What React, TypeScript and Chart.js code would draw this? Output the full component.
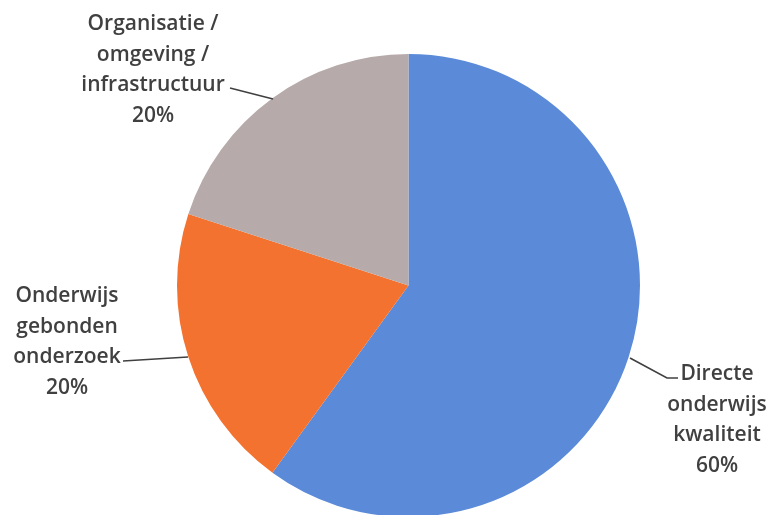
import React, { useEffect, useRef } from "react";
import { Chart, registerables } from "chart.js";

Chart.register(...registerables);

// ---- data ----
const categories: string[][] = [
  ["Directe", "onderwijs", "kwaliteit"],
  ["Onderwijs", "gebonden", "onderzoek"],
  ["Organisatie /", "omgeving /", "infrastructuur"],
];
const values: number[] = [60, 20, 20];
const colors: string[] = ["#5b8bd8", "#f4722f", "#b6abaa"];

// ---- label layout (style only), offsets relative to pie centre ----
const labelLayout = [
  { dx: 308.5, baseDy: 94.5, leader: [[221.5, 72.5], [258.5, 92.5], [269.5, 92.5]] },
  { dx: -341.5, baseDy: 16.5, leader: [[-285.5, 75.5], [-220.5, 71.5]] },
  { dx: -255.5, baseDy: -255.5, leader: [[-178.5, -197.5], [-135.5, -186.5]] },
];

const TEXT_COLOR = "#404040";
const FONT = "600 21px 'Open Sans', Lato, sans-serif";
const LINE_H = 30.5;

const labelPlugin = {
  id: "pieLabels",
  afterDraw(chart: any) {
    const ctx = chart.ctx as CanvasRenderingContext2D;
    const meta = chart.getDatasetMeta(0);
    if (!meta.data.length) return;
    const arc0 = meta.data[0];
    const cx = arc0.x;
    const cy = arc0.y;
    const total = values.reduce((a, b) => a + b, 0);
    ctx.save();
    categories.forEach((lines, i) => {
      const lay = labelLayout[i];
      // leader line
      ctx.strokeStyle = TEXT_COLOR;
      ctx.lineWidth = 1.6;
      ctx.beginPath();
      lay.leader.forEach((p, j) => {
        const x = cx + p[0];
        const y = cy + p[1];
        if (j === 0) ctx.moveTo(x, y);
        else ctx.lineTo(x, y);
      });
      ctx.stroke();
      // text
      ctx.fillStyle = TEXT_COLOR;
      ctx.font = FONT;
      ctx.textAlign = "center";
      ctx.textBaseline = "alphabetic";
      const pct = Math.round((values[i] / total) * 100) + "%";
      const all = [...lines, pct];
      all.forEach((t, k) => {
        ctx.fillText(t, cx + lay.dx, cy + lay.baseDy + k * LINE_H);
      });
    });
    ctx.restore();
  },
};

export default function App() {
  const ref = useRef<HTMLCanvasElement | null>(null);

  useEffect(() => {
    document.body.style.margin = "0";
    document.body.style.overflow = "hidden";
    const canvas = ref.current;
    if (!canvas) return;
    const chart = new Chart(canvas, {
      type: "pie",
      data: {
        labels: categories,
        datasets: [
          {
            data: values,
            backgroundColor: colors,
            borderWidth: 0,
          },
        ],
      },
      options: {
        responsive: false,
        animation: false,
        devicePixelRatio: 1,
        layout: { padding: { left: 177, right: 132, top: 54, bottom: 3 } },
        plugins: {
          legend: { display: false },
          tooltip: { enabled: false },
        },
      },
      plugins: [labelPlugin],
    });
    return () => chart.destroy();
  }, []);

  return (
    <div style={{ position: "fixed", left: 0, top: 0, width: 772, height: 515, background: "#fff", overflow: "hidden" }}>
      <canvas ref={ref} width={772} height={520} style={{ display: "block" }} />
    </div>
  );
}
